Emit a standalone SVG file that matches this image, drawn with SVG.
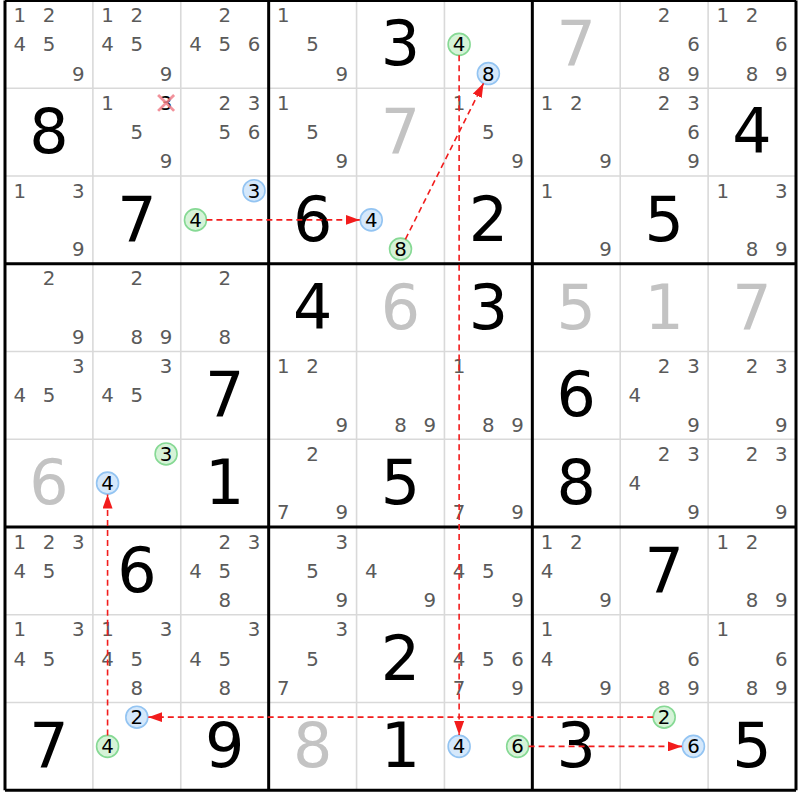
<svg xmlns="http://www.w3.org/2000/svg" width="800" height="800" viewBox="0 0 800 800">
<defs>
<style>
text{font-family:"DejaVu Sans","Liberation Sans",sans-serif;text-anchor:middle}
.c{font-size:19.8px;fill:#5a5a5a}
.k{font-size:19.8px;fill:#000}
.g{font-size:62px;fill:#000}
.s{font-size:62px;fill:#c3c3c3}
.thin{stroke:#d9d9d9;stroke-width:1.6}
.thick{stroke:#000;stroke-width:3}
.gc{fill:#d6f3d8;stroke:#86d994;stroke-width:1.6}
.bc{fill:#d5e8fb;stroke:#93c4f2;stroke-width:1.6}
.ar{stroke:#f21c1c;stroke-width:1.6;stroke-dasharray:6 4;fill:none;marker-end:url(#ah)}
.x{stroke:#f07f8a;stroke-width:2.8;opacity:0.85}
</style>
<marker id="ah" markerUnits="userSpaceOnUse" markerWidth="14" markerHeight="10" refX="14" refY="5" orient="auto">
<path d="M0,0 L14,5 L0,10 Z" fill="#f21c1c"/>
</marker>
</defs>
<rect width="800" height="800" fill="#fff"/>
<g transform="translate(5,0.5) scale(0.99874,0.99716)">
<g id="grid">
<path class="thin" d="M88,0V792M176,0V792M352,0V792M440,0V792M616,0V792M704,0V792M0,88H792M0,176H792M0,352H792M0,440H792M0,616H792M0,704H792"/>
<path class="thick" d="M0,0V792M264,0V792M528,0V792M792,0V792M0,0H792M0,264H792M0,528H792M0,792H792"/>
</g>

<g id="r1c1" transform="translate(0,0)"><text class="c" x="14.7" y="21.7">1</text><text class="c" x="44" y="21.7">2</text><text class="c" x="14.7" y="51">4</text><text class="c" x="44" y="51">5</text><text class="c" x="73.3" y="80.3">9</text></g>
<g id="r1c2" transform="translate(88,0)"><text class="c" x="14.7" y="21.7">1</text><text class="c" x="44" y="21.7">2</text><text class="c" x="14.7" y="51">4</text><text class="c" x="44" y="51">5</text><text class="c" x="73.3" y="80.3">9</text></g>
<g id="r1c3" transform="translate(176,0)"><text class="c" x="44" y="21.7">2</text><text class="c" x="14.7" y="51">4</text><text class="c" x="44" y="51">5</text><text class="c" x="73.3" y="51">6</text></g>
<g id="r1c4" transform="translate(264,0)"><text class="c" x="14.7" y="21.7">1</text><text class="c" x="44" y="51">5</text><text class="c" x="73.3" y="80.3">9</text></g>
<g id="r1c5" transform="translate(352,0)"><text class="g" x="44" y="65">3</text></g>
<g id="r1c6" transform="translate(440,0)"><circle class="gc" cx="14.7" cy="44" r="11"/><text class="k" x="14.7" y="51">4</text><circle class="bc" cx="44" cy="73.3" r="11"/><text class="k" x="44" y="80.3">8</text></g>
<g id="r1c7" transform="translate(528,0)"><text class="s" x="44" y="65">7</text></g>
<g id="r1c8" transform="translate(616,0)"><text class="c" x="44" y="21.7">2</text><text class="c" x="73.3" y="51">6</text><text class="c" x="44" y="80.3">8</text><text class="c" x="73.3" y="80.3">9</text></g>
<g id="r1c9" transform="translate(704,0)"><text class="c" x="14.7" y="21.7">1</text><text class="c" x="44" y="21.7">2</text><text class="c" x="73.3" y="51">6</text><text class="c" x="44" y="80.3">8</text><text class="c" x="73.3" y="80.3">9</text></g>

<g id="r2c1" transform="translate(0,88)"><text class="g" x="44" y="65">8</text></g>
<g id="r2c2" transform="translate(88,88)"><text class="c" x="14.7" y="21.7">1</text><text class="k" x="73.3" y="21.7">3</text><path class="x" d="M65.3,6.7L81.3,22.7M81.3,6.7L65.3,22.7"/><text class="c" x="44" y="51">5</text><text class="c" x="73.3" y="80.3">9</text></g>
<g id="r2c3" transform="translate(176,88)"><text class="c" x="44" y="21.7">2</text><text class="c" x="73.3" y="21.7">3</text><text class="c" x="44" y="51">5</text><text class="c" x="73.3" y="51">6</text></g>
<g id="r2c4" transform="translate(264,88)"><text class="c" x="14.7" y="21.7">1</text><text class="c" x="44" y="51">5</text><text class="c" x="73.3" y="80.3">9</text></g>
<g id="r2c5" transform="translate(352,88)"><text class="s" x="44" y="65">7</text></g>
<g id="r2c6" transform="translate(440,88)"><text class="c" x="14.7" y="21.7">1</text><text class="c" x="44" y="51">5</text><text class="c" x="73.3" y="80.3">9</text></g>
<g id="r2c7" transform="translate(528,88)"><text class="c" x="14.7" y="21.7">1</text><text class="c" x="44" y="21.7">2</text><text class="c" x="73.3" y="80.3">9</text></g>
<g id="r2c8" transform="translate(616,88)"><text class="c" x="44" y="21.7">2</text><text class="c" x="73.3" y="21.7">3</text><text class="c" x="73.3" y="51">6</text><text class="c" x="73.3" y="80.3">9</text></g>
<g id="r2c9" transform="translate(704,88)"><text class="g" x="44" y="65">4</text></g>

<g id="r3c1" transform="translate(0,176)"><text class="c" x="14.7" y="21.7">1</text><text class="c" x="73.3" y="21.7">3</text><text class="c" x="73.3" y="80.3">9</text></g>
<g id="r3c2" transform="translate(88,176)"><text class="g" x="44" y="65">7</text></g>
<g id="r3c3" transform="translate(176,176)"><circle class="bc" cx="73.3" cy="14.7" r="11"/><text class="k" x="73.3" y="21.7">3</text><circle class="gc" cx="14.7" cy="44" r="11"/><text class="k" x="14.7" y="51">4</text></g>
<g id="r3c4" transform="translate(264,176)"><text class="g" x="44" y="65">6</text></g>
<g id="r3c5" transform="translate(352,176)"><circle class="bc" cx="14.7" cy="44" r="11"/><text class="k" x="14.7" y="51">4</text><circle class="gc" cx="44" cy="73.3" r="11"/><text class="k" x="44" y="80.3">8</text></g>
<g id="r3c6" transform="translate(440,176)"><text class="g" x="44" y="65">2</text></g>
<g id="r3c7" transform="translate(528,176)"><text class="c" x="14.7" y="21.7">1</text><text class="c" x="73.3" y="80.3">9</text></g>
<g id="r3c8" transform="translate(616,176)"><text class="g" x="44" y="65">5</text></g>
<g id="r3c9" transform="translate(704,176)"><text class="c" x="14.7" y="21.7">1</text><text class="c" x="73.3" y="21.7">3</text><text class="c" x="44" y="80.3">8</text><text class="c" x="73.3" y="80.3">9</text></g>

<g id="r4c1" transform="translate(0,264)"><text class="c" x="44" y="21.7">2</text><text class="c" x="73.3" y="80.3">9</text></g>
<g id="r4c2" transform="translate(88,264)"><text class="c" x="44" y="21.7">2</text><text class="c" x="44" y="80.3">8</text><text class="c" x="73.3" y="80.3">9</text></g>
<g id="r4c3" transform="translate(176,264)"><text class="c" x="44" y="21.7">2</text><text class="c" x="44" y="80.3">8</text></g>
<g id="r4c4" transform="translate(264,264)"><text class="g" x="44" y="65">4</text></g>
<g id="r4c5" transform="translate(352,264)"><text class="s" x="44" y="65">6</text></g>
<g id="r4c6" transform="translate(440,264)"><text class="g" x="44" y="65">3</text></g>
<g id="r4c7" transform="translate(528,264)"><text class="s" x="44" y="65">5</text></g>
<g id="r4c8" transform="translate(616,264)"><text class="s" x="44" y="65">1</text></g>
<g id="r4c9" transform="translate(704,264)"><text class="s" x="44" y="65">7</text></g>

<g id="r5c1" transform="translate(0,352)"><text class="c" x="73.3" y="21.7">3</text><text class="c" x="14.7" y="51">4</text><text class="c" x="44" y="51">5</text></g>
<g id="r5c2" transform="translate(88,352)"><text class="c" x="73.3" y="21.7">3</text><text class="c" x="14.7" y="51">4</text><text class="c" x="44" y="51">5</text></g>
<g id="r5c3" transform="translate(176,352)"><text class="g" x="44" y="65">7</text></g>
<g id="r5c4" transform="translate(264,352)"><text class="c" x="14.7" y="21.7">1</text><text class="c" x="44" y="21.7">2</text><text class="c" x="73.3" y="80.3">9</text></g>
<g id="r5c5" transform="translate(352,352)"><text class="c" x="44" y="80.3">8</text><text class="c" x="73.3" y="80.3">9</text></g>
<g id="r5c6" transform="translate(440,352)"><text class="c" x="14.7" y="21.7">1</text><text class="c" x="44" y="80.3">8</text><text class="c" x="73.3" y="80.3">9</text></g>
<g id="r5c7" transform="translate(528,352)"><text class="g" x="44" y="65">6</text></g>
<g id="r5c8" transform="translate(616,352)"><text class="c" x="44" y="21.7">2</text><text class="c" x="73.3" y="21.7">3</text><text class="c" x="14.7" y="51">4</text><text class="c" x="73.3" y="80.3">9</text></g>
<g id="r5c9" transform="translate(704,352)"><text class="c" x="44" y="21.7">2</text><text class="c" x="73.3" y="21.7">3</text><text class="c" x="73.3" y="80.3">9</text></g>

<g id="r6c1" transform="translate(0,440)"><text class="s" x="44" y="65">6</text></g>
<g id="r6c2" transform="translate(88,440)"><circle class="gc" cx="73.3" cy="14.7" r="11"/><text class="k" x="73.3" y="21.7">3</text><circle class="bc" cx="14.7" cy="44" r="11"/><text class="k" x="14.7" y="51">4</text></g>
<g id="r6c3" transform="translate(176,440)"><text class="g" x="44" y="65">1</text></g>
<g id="r6c4" transform="translate(264,440)"><text class="c" x="44" y="21.7">2</text><text class="c" x="14.7" y="80.3">7</text><text class="c" x="73.3" y="80.3">9</text></g>
<g id="r6c5" transform="translate(352,440)"><text class="g" x="44" y="65">5</text></g>
<g id="r6c6" transform="translate(440,440)"><text class="c" x="14.7" y="80.3">7</text><text class="c" x="73.3" y="80.3">9</text></g>
<g id="r6c7" transform="translate(528,440)"><text class="g" x="44" y="65">8</text></g>
<g id="r6c8" transform="translate(616,440)"><text class="c" x="44" y="21.7">2</text><text class="c" x="73.3" y="21.7">3</text><text class="c" x="14.7" y="51">4</text><text class="c" x="73.3" y="80.3">9</text></g>
<g id="r6c9" transform="translate(704,440)"><text class="c" x="44" y="21.7">2</text><text class="c" x="73.3" y="21.7">3</text><text class="c" x="73.3" y="80.3">9</text></g>

<g id="r7c1" transform="translate(0,528)"><text class="c" x="14.7" y="21.7">1</text><text class="c" x="44" y="21.7">2</text><text class="c" x="73.3" y="21.7">3</text><text class="c" x="14.7" y="51">4</text><text class="c" x="44" y="51">5</text></g>
<g id="r7c2" transform="translate(88,528)"><text class="g" x="44" y="65">6</text></g>
<g id="r7c3" transform="translate(176,528)"><text class="c" x="44" y="21.7">2</text><text class="c" x="73.3" y="21.7">3</text><text class="c" x="14.7" y="51">4</text><text class="c" x="44" y="51">5</text><text class="c" x="44" y="80.3">8</text></g>
<g id="r7c4" transform="translate(264,528)"><text class="c" x="73.3" y="21.7">3</text><text class="c" x="44" y="51">5</text><text class="c" x="73.3" y="80.3">9</text></g>
<g id="r7c5" transform="translate(352,528)"><text class="c" x="14.7" y="51">4</text><text class="c" x="73.3" y="80.3">9</text></g>
<g id="r7c6" transform="translate(440,528)"><text class="c" x="14.7" y="51">4</text><text class="c" x="44" y="51">5</text><text class="c" x="73.3" y="80.3">9</text></g>
<g id="r7c7" transform="translate(528,528)"><text class="c" x="14.7" y="21.7">1</text><text class="c" x="44" y="21.7">2</text><text class="c" x="14.7" y="51">4</text><text class="c" x="73.3" y="80.3">9</text></g>
<g id="r7c8" transform="translate(616,528)"><text class="g" x="44" y="65">7</text></g>
<g id="r7c9" transform="translate(704,528)"><text class="c" x="14.7" y="21.7">1</text><text class="c" x="44" y="21.7">2</text><text class="c" x="44" y="80.3">8</text><text class="c" x="73.3" y="80.3">9</text></g>

<g id="r8c1" transform="translate(0,616)"><text class="c" x="14.7" y="21.7">1</text><text class="c" x="73.3" y="21.7">3</text><text class="c" x="14.7" y="51">4</text><text class="c" x="44" y="51">5</text></g>
<g id="r8c2" transform="translate(88,616)"><text class="c" x="14.7" y="21.7">1</text><text class="c" x="73.3" y="21.7">3</text><text class="c" x="14.7" y="51">4</text><text class="c" x="44" y="51">5</text><text class="c" x="44" y="80.3">8</text></g>
<g id="r8c3" transform="translate(176,616)"><text class="c" x="73.3" y="21.7">3</text><text class="c" x="14.7" y="51">4</text><text class="c" x="44" y="51">5</text><text class="c" x="44" y="80.3">8</text></g>
<g id="r8c4" transform="translate(264,616)"><text class="c" x="73.3" y="21.7">3</text><text class="c" x="44" y="51">5</text><text class="c" x="14.7" y="80.3">7</text></g>
<g id="r8c5" transform="translate(352,616)"><text class="g" x="44" y="65">2</text></g>
<g id="r8c6" transform="translate(440,616)"><text class="c" x="14.7" y="51">4</text><text class="c" x="44" y="51">5</text><text class="c" x="73.3" y="51">6</text><text class="c" x="14.7" y="80.3">7</text><text class="c" x="73.3" y="80.3">9</text></g>
<g id="r8c7" transform="translate(528,616)"><text class="c" x="14.7" y="21.7">1</text><text class="c" x="14.7" y="51">4</text><text class="c" x="73.3" y="80.3">9</text></g>
<g id="r8c8" transform="translate(616,616)"><text class="c" x="73.3" y="51">6</text><text class="c" x="44" y="80.3">8</text><text class="c" x="73.3" y="80.3">9</text></g>
<g id="r8c9" transform="translate(704,616)"><text class="c" x="14.7" y="21.7">1</text><text class="c" x="73.3" y="51">6</text><text class="c" x="44" y="80.3">8</text><text class="c" x="73.3" y="80.3">9</text></g>

<g id="r9c1" transform="translate(0,704)"><text class="g" x="44" y="65">7</text></g>
<g id="r9c2" transform="translate(88,704)"><circle class="bc" cx="44" cy="14.7" r="11"/><text class="k" x="44" y="21.7">2</text><circle class="gc" cx="14.7" cy="44" r="11"/><text class="k" x="14.7" y="51">4</text></g>
<g id="r9c3" transform="translate(176,704)"><text class="g" x="44" y="65">9</text></g>
<g id="r9c4" transform="translate(264,704)"><text class="s" x="44" y="65">8</text></g>
<g id="r9c5" transform="translate(352,704)"><text class="g" x="44" y="65">1</text></g>
<g id="r9c6" transform="translate(440,704)"><circle class="bc" cx="14.7" cy="44" r="11"/><text class="k" x="14.7" y="51">4</text><circle class="gc" cx="73.3" cy="44" r="11"/><text class="k" x="73.3" y="51">6</text></g>
<g id="r9c7" transform="translate(528,704)"><text class="g" x="44" y="65">3</text></g>
<g id="r9c8" transform="translate(616,704)"><circle class="gc" cx="44" cy="14.7" r="11"/><text class="k" x="44" y="21.7">2</text><circle class="bc" cx="73.3" cy="44" r="11"/><text class="k" x="73.3" y="51">6</text></g>
<g id="r9c9" transform="translate(704,704)"><text class="g" x="44" y="65">5</text></g>

<g id="connectors">
<path class="ar" d="M201.7,220H355.2"/>
<path class="ar" d="M400.9,239.5L479.1,83.1"/>
<path class="ar" d="M454.7,55V736.5"/>
<path class="ar" d="M524.3,748H677.8"/>
<path class="ar" d="M649,718.7H143.5"/>
<path class="ar" d="M102.7,737V495.5"/>
</g>
</g>
</svg>
